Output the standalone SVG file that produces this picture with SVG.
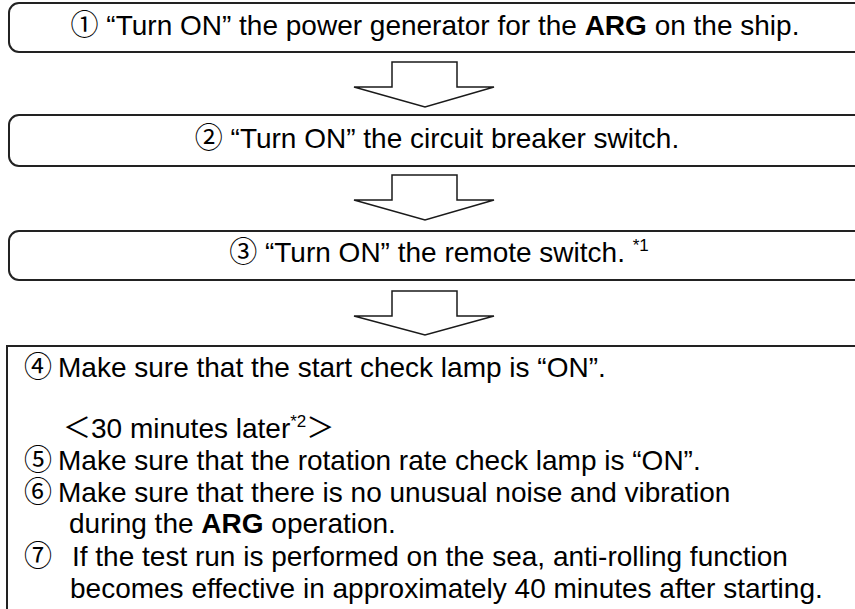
<svg xmlns="http://www.w3.org/2000/svg" width="855" height="609" viewBox="0 0 855 609">
<style>
.box{fill:#fff;stroke:#222;stroke-width:2}
.arr{fill:#fff;stroke:#1a1a1a;stroke-width:1.5;stroke-linejoin:miter}
.t{font-family:"Liberation Sans",Arial,"Noto Sans CJK JP",sans-serif;font-size:28px;fill:#000}
.c{text-anchor:middle}
.b{font-weight:bold}
.sup{font-size:17px}
</style>
<rect width="855" height="609" fill="#fff"/>
<g id="step1">
<rect class="box" x="9" y="3" width="860" height="49" rx="10"/>
<text class="t c" x="435" y="35">① “Turn ON” the power generator for the <tspan class="b">ARG</tspan> on the ship.</text>
</g>
<g id="step2">
<rect class="box" x="9" y="115" width="860" height="51" rx="10"/>
<text class="t c" x="437" y="148">② “Turn ON” the circuit breaker switch.</text>
</g>
<g id="step3">
<rect class="box" x="9" y="231" width="860" height="49" rx="10"/>
<text class="t c" x="439" y="262">③ “Turn ON” the remote switch. <tspan class="sup" dy="-11">*1</tspan></text>
</g>
<g id="step4">
<rect class="box" x="7" y="346" width="880" height="280"/>
<text class="t" y="377"><tspan x="24">④</tspan><tspan x="58">Make sure that the start check lamp is “ON”.</tspan></text>
<text class="t" x="63" y="438">＜30 minutes later<tspan class="sup" dy="-11">*2</tspan><tspan dy="11">＞</tspan></text>
<text class="t" y="470"><tspan x="24">⑤</tspan><tspan x="58">Make sure that the rotation rate check lamp is “ON”.</tspan></text>
<text class="t" y="502"><tspan x="24">⑥</tspan><tspan x="58">Make sure that there is no unusual noise and vibration</tspan></text>
<text class="t" x="69" y="533">during the <tspan class="b">ARG</tspan> operation.</text>
<text class="t" y="566"><tspan x="24">⑦</tspan><tspan x="72">If the test run is performed on the sea, anti-rolling function</tspan></text>
<text class="t" x="70" y="598">becomes effective in approximately 40 minutes after starting.</text>
</g>
<g id="connectors">
<path class="arr" d="M392,62 H457 V87 H494 L425,107 L354,87 H392 Z"/>
<path class="arr" d="M392,175 H457 V200 H494 L425,220 L354,200 H392 Z"/>
<path class="arr" d="M392,291 H457 V316 H494 L425,335 L354,316 H392 Z"/>
</g>
</svg>
